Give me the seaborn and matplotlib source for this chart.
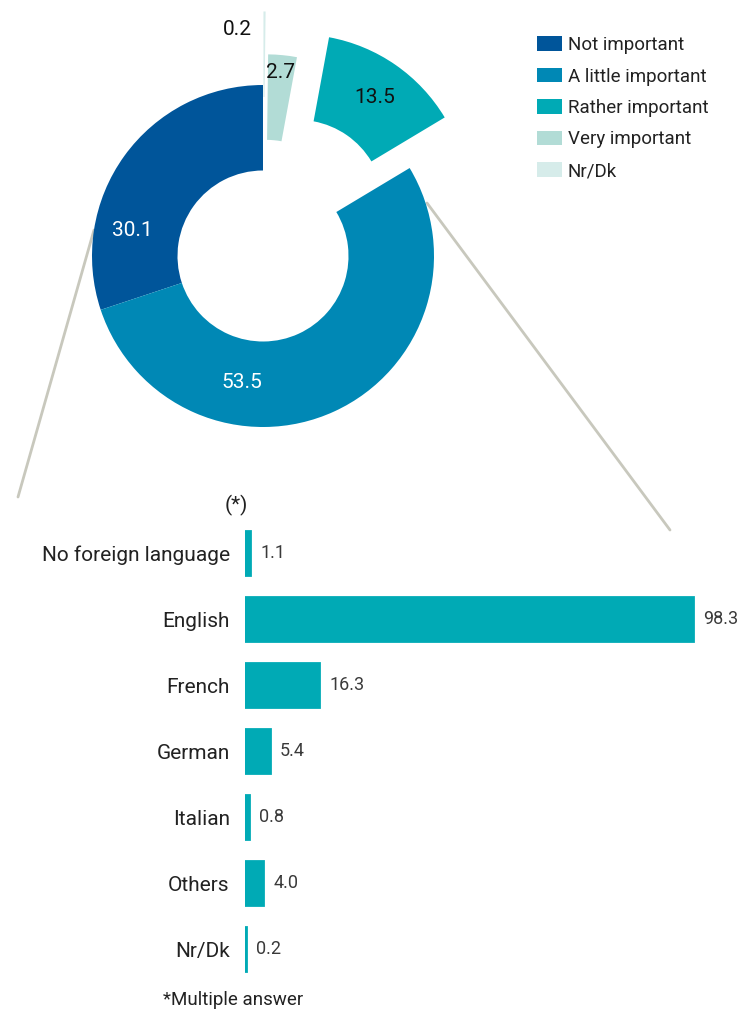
import numpy as np
import pandas as pd
import matplotlib
matplotlib.use('Agg')
import matplotlib.pyplot as plt
from matplotlib.lines import Line2D
import seaborn as sns

# importance of foreign languages (donut)
imp_labels = ['Not important', 'A little important', 'Rather important', 'Very important', 'Nr/Dk']
imp_values = [30.1, 53.5, 13.5, 2.7, 0.2]
imp_colors = ['#00559a', '#0088b5', '#00aab5', '#b2dcd6', '#d6ecea']

# which languages (bars, multiple answer)
lang_labels = ['No foreign language', 'English', 'French', 'German', 'Italian', 'Others', 'Nr/Dk']
lang_values = [1.1, 98.3, 16.3, 5.4, 0.8, 4.0, 0.2]

sns.set_theme(style='white')
plt.rcParams['font.family'] = ['Roboto', 'DejaVu Sans']

W, H = 742, 1013
fig = plt.figure(figsize=(W / 100, H / 100), dpi=100)

# ---- donut ----
R = 171.0          # px per pie unit
cx, cy = 263, 256  # centre in px (top origin)
L = 1.5
ax_p = fig.add_axes([(cx - L * R) / W, (H - cy - L * R) / H, 2 * L * R / W, 2 * L * R / H])
explode = [0, 0, 0.36, 0.18, 0.43]
wedges, _ = ax_p.pie(imp_values, colors=imp_colors, startangle=90, counterclock=True,
                     explode=explode, radius=1.0,
                     wedgeprops=dict(width=0.5, linewidth=0))
ax_p.set_xlim(-L, L)
ax_p.set_ylim(-L, L)
ax_p.set_aspect('equal')
ax_p.axis('off')

lbl_pos = [(-0.766, 0.152), (-0.123, -0.737), (0.655, 0.924), (0.105, 1.076), (-0.152, 1.322)]
lbl_col = ['white', 'white', '#111111', '#111111', '#111111']
for v, (x, y), c in zip(imp_values, lbl_pos, lbl_col):
    ax_p.text(x, y, f'{v:.1f}', ha='center', va='center', fontsize=15, color=c)

ax_p.legend(wedges, imp_labels, loc='upper left', bbox_to_anchor=(537 / W, 1 - 36 / H),
            bbox_transform=fig.transFigure, frameon=False, fontsize=13.5,
            handlelength=1.35, handleheight=0.8, handletextpad=0.3, labelspacing=0.72,
            borderaxespad=0, borderpad=0)
for t in ax_p.get_legend().get_texts():
    t.set_color('#222222')

# ---- bars ----
step = 66
bx0, bx_unit = 245, (693 - 245) / 98.3
top_y = 553 - step / 2
ax_b = fig.add_axes([bx0 / W, (H - (top_y + 7 * step)) / H, 100 * bx_unit / W, 7 * step / H])
df = pd.DataFrame({'lang': lang_labels, 'pct': lang_values})
sns.barplot(data=df, x='pct', y='lang', color='#00aab5', saturation=1, width=0.68, ax=ax_b,
            edgecolor='#00aab5', linewidth=2)
ax_b.set_xlim(0, 100)
ax_b.set_ylim(6.5, -0.5)
ax_b.set_xlabel('')
ax_b.set_ylabel('')
ax_b.set_xticks([])
ax_b.tick_params(axis='y', length=0, pad=11, labelsize=15, labelcolor='#222222')
sns.despine(ax=ax_b, left=True, bottom=True)
ax_b.patch.set_visible(False)
for i, v in enumerate(lang_values):
    ax_b.text(v + 2.2, i, f'{v:.1f}', va='center', ha='left', fontsize=13,
              color='#3a3a3a')

fig.text(236 / W, 1 - 505 / H, '(*)', ha='center', va='center', fontsize=15, color='#222222')
fig.text(163 / W, 1 - 1000 / H, '*Multiple answer', ha='left', va='center', fontsize=13.5,
         color='#222222')

# connector lines from donut to the bar block
line_col = '#c8c8bd'
for (x1, y1), (x2, y2) in [((94, 230), (18, 497)), ((427, 203), (670, 530))]:
    fig.add_artist(Line2D([x1 / W, x2 / W], [1 - y1 / H, 1 - y2 / H], color=line_col,
                          lw=2, zorder=-1, transform=fig.transFigure))

fig.savefig('out.png', dpi=100, facecolor='white')
